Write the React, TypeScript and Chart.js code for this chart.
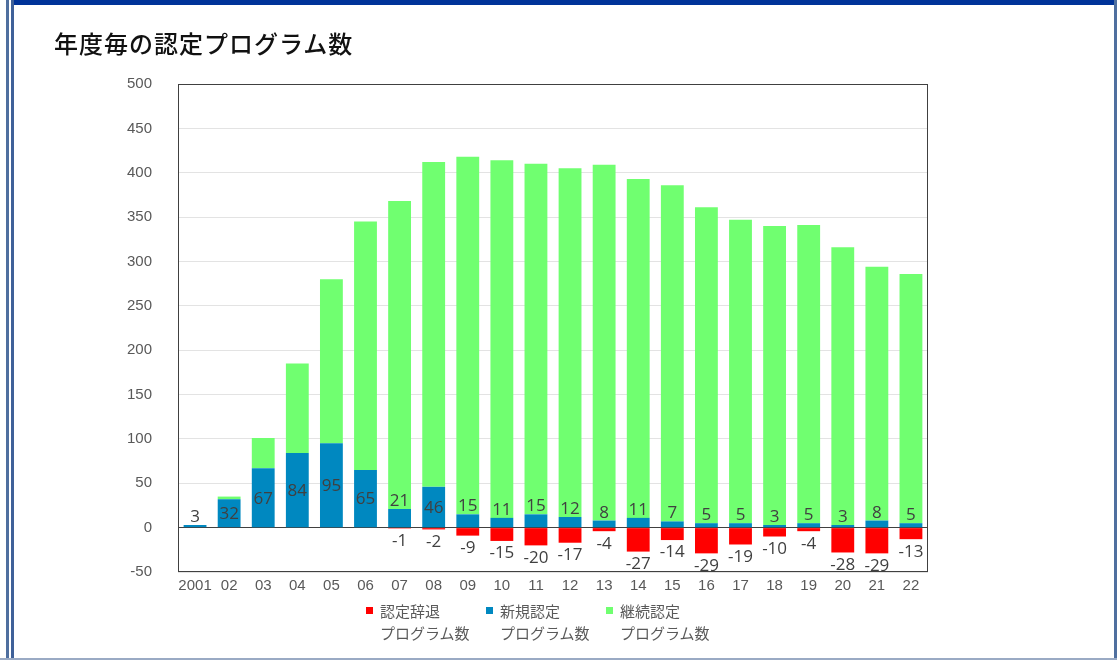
import React, { useEffect, useRef } from "react";
import { Chart, registerables } from "chart.js";

Chart.register(...registerables);

const categories = ["2001", "02", "03", "04", "05", "06", "07", "08", "09", "10", "11", "12", "13", "14", "15", "16", "17", "18", "19", "20", "21", "22"];
const newPrograms = [3, 32, 67, 84, 95, 65, 21, 46, 15, 11, 15, 12, 8, 11, 7, 5, 5, 3, 5, 3, 8, 5];
const continuingPrograms = [0, 3, 34, 101, 185, 280, 347, 366, 403, 403, 395, 393, 401, 382, 379, 356, 342, 337, 336, 313, 286, 281];
const withdrawnPrograms = [0, 0, 0, 0, 0, 0, -1, -2, -9, -15, -20, -17, -4, -27, -14, -29, -19, -10, -4, -28, -29, -13];
const yTicks = [500, 450, 400, 350, 300, 250, 200, 150, 100, 50, 0, -50];

const titleText = "年度毎の認定プログラム数";
const legendItems = [
  { line1: "認定辞退", line2: "プログラム数", color: "#FF0000" },
  { line1: "新規認定", line2: "プログラム数", color: "#0088C0" },
  { line1: "継続認定", line2: "プログラム数", color: "#70FF70" },
];

const NUM_FONT = "'Liberation Sans', Arial, sans-serif";
const LABEL_FONT = "'Open Sans', 'Liberation Sans', sans-serif";
const CJK_FONT = "'Noto Sans CJK JP', 'Noto Sans', sans-serif";

const boxPlugin = {
  id: "plotBox",
  afterDraw(chart: any) {
    const { ctx, chartArea } = chart;
    ctx.save();
    ctx.strokeStyle = "#404040";
    ctx.lineWidth = 1;
    ctx.strokeRect(
      Math.round(chartArea.left) + 0.5,
      Math.round(chartArea.top) + 0.5,
      Math.round(chartArea.right - chartArea.left) - 1,
      Math.round(chartArea.bottom - chartArea.top) - 1
    );
    ctx.restore();
  },
};

const labelPlugin = {
  id: "barLabels",
  afterDatasetsDraw(chart: any) {
    const { ctx } = chart;
    ctx.save();
    ctx.font = `17px ${LABEL_FONT}`;
    ctx.fillStyle = "#404040";
    ctx.textAlign = "center";
    const m0 = chart.getDatasetMeta(0);
    m0.data.forEach((el: any, i: number) => {
      const v = newPrograms[i];
      const h = Math.abs(el.base - el.y);
      if (h < 22) {
        ctx.textBaseline = "alphabetic";
        ctx.fillText(String(v), el.x, el.y - 3);
      } else {
        ctx.textBaseline = "middle";
        ctx.fillText(String(v), el.x, (el.y + el.base) / 2 + 1);
      }
    });
    const m2 = chart.getDatasetMeta(2);
    m2.data.forEach((el: any, i: number) => {
      const v = withdrawnPrograms[i];
      if (v === 0) return;
      ctx.textBaseline = "top";
      ctx.fillText(String(v), el.x, Math.max(el.y, el.base) + 4);
    });
    ctx.restore();
  },
};

export default function App() {
  const ref = useRef<HTMLCanvasElement | null>(null);

  useEffect(() => {
    document.body.style.margin = "0";
    const canvas = ref.current;
    if (!canvas) return;
    const chart = new Chart(canvas, {
      type: "bar",
      data: {
        labels: categories,
        datasets: [
          {
            label: "新規認定プログラム数",
            data: newPrograms,
            backgroundColor: "#0088C0",
            stack: "s",
            categoryPercentage: 1,
            barPercentage: 0.67,
          },
          {
            label: "継続認定プログラム数",
            data: continuingPrograms,
            backgroundColor: "#70FF70",
            stack: "s",
            categoryPercentage: 1,
            barPercentage: 0.67,
          },
          {
            label: "認定辞退プログラム数",
            data: withdrawnPrograms,
            backgroundColor: "#FF0000",
            stack: "s",
            categoryPercentage: 1,
            barPercentage: 0.67,
          },
        ],
      },
      options: {
        animation: false,
        responsive: false,
        maintainAspectRatio: false,
        devicePixelRatio: 1,
        layout: { padding: { left: 100, top: 84, right: 189, bottom: 60 } },
        plugins: {
          legend: { display: false },
          tooltip: { enabled: false },
          title: { display: false },
        },
        scales: {
          x: {
            stacked: true,
            grid: { display: false, drawTicks: false },
            border: { display: false },
            ticks: {
              color: "#595959",
              font: { family: NUM_FONT, size: 15 },
              padding: 5,
              maxRotation: 0,
              minRotation: 0,
              autoSkip: false,
            },
            afterFit(scale: any) {
              scale.height = 28;
            },
          },
          y: {
            stacked: true,
            min: -50,
            max: 500,
            afterBuildTicks(scale: any) {
              scale.ticks = yTicks.map((v) => ({ value: v }));
            },
            grid: {
              drawTicks: false,
              color: (c: any) => (c.tick && c.tick.value === 0 ? "#404040" : "#E3E3E3"),
              lineWidth: 1,
            },
            border: { display: false },
            ticks: {
              color: "#595959",
              font: { family: NUM_FONT, size: 15 },
              padding: 26,
            },
            afterFit(scale: any) {
              scale.width = 78;
            },
          },
        },
      },
      plugins: [boxPlugin, labelPlugin],
    });
    return () => chart.destroy();
  }, []);

  return (
    <div style={{ position: "relative", width: 1117, height: 660, background: "#fff", overflow: "hidden" }}>
      <div style={{ position: "absolute", left: 14, top: 0, width: 1100, height: 5, background: "#003399" }} />
      <div style={{ position: "absolute", left: 6, top: 0, width: 3, height: 658, background: "#4F6F9F" }} />
      <div style={{ position: "absolute", left: 11, top: 0, width: 3, height: 658, background: "#3F6199" }} />
      <div style={{ position: "absolute", left: 1114, top: 0, width: 3, height: 660, background: "#4F6F9F" }} />
      <div style={{ position: "absolute", left: 0, top: 658, width: 1117, height: 2, background: "#9AAAC4" }} />
      <canvas ref={ref} width={1117} height={660} style={{ position: "absolute", left: 0, top: 0, width: 1117, height: 660 }} />
      <div
        style={{
          position: "absolute",
          left: 54,
          top: 29,
          fontFamily: CJK_FONT,
          fontSize: 24,
          fontWeight: 500,
          lineHeight: "28px",
          color: "#111",
          letterSpacing: 1,
          whiteSpace: "nowrap",
        }}
      >
        {titleText}
      </div>
      {legendItems.map((it, i) => (
        <div key={i} style={{ position: "absolute", left: 366 + i * 120, top: 600 }}>
          <div style={{ position: "absolute", left: 0, top: 7, width: 7, height: 7, background: it.color }} />
          <div
            style={{
              position: "absolute",
              left: 14,
              top: 0,
              fontFamily: CJK_FONT,
              fontSize: 15,
              lineHeight: "22px",
              color: "#595959",
              whiteSpace: "nowrap",
            }}
          >
            <div>{it.line1}</div>
            <div>{it.line2}</div>
          </div>
        </div>
      ))}
    </div>
  );
}
